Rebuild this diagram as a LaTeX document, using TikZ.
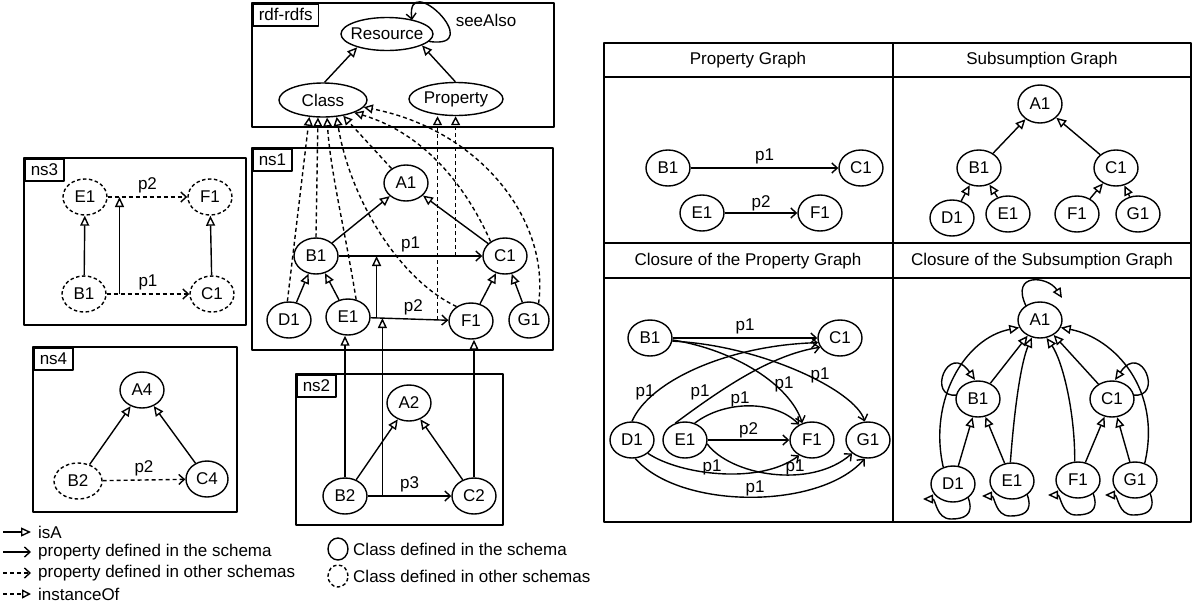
\documentclass[tikz,border=0pt]{standalone}
\usepackage{fontspec}
\setmainfont{Liberation Sans}
\usetikzlibrary{arrows.meta,shapes.geometric,calc}
\begin{document}
\begin{tikzpicture}[x=1pt,y=-1pt,
  font=\fontsize{17}{20}\selectfont,
  line join=round,
  cls/.style={draw, ellipse, line width=1.4pt, minimum width=44pt, minimum height=36pt, inner sep=0pt, fill=white},
  dcls/.style={cls, dash pattern=on 3.5pt off 2.5pt},
  frame/.style={draw, line width=1.5pt},
  tag/.style={draw, line width=1.5pt, anchor=north west, inner xsep=6pt, inner ysep=0pt, minimum height=22pt},
  lbl/.style={inner sep=0pt},
  isa/.style={line width=1.4pt, -{Triangle[open, length=10pt, width=9pt]}},
  prop/.style={line width=1.4pt, -{Straight Barb[length=5.5pt, width=10pt]}},
  dprop/.style={prop, dash pattern=on 4pt off 3pt},
  inst/.style={line width=1.4pt, dash pattern=on 4pt off 3pt, -{Triangle[open, length=9pt, width=9pt]}},
]
\useasboundingbox (0,0) rectangle (1203,614);

% ---------------- rdf-rdfs ----------------
\draw[frame] (252,3) rectangle (554,127);
\node[tag] (tagrdf) at (252,3) {rdf-rdfs};
\node[cls, minimum width=92pt, minimum height=33pt] (rdfres) at (387,34) {};
\node[lbl] (rdfrestxt) at (rdfres) {Resource};
\node[cls, minimum width=88pt, minimum height=34pt] (rdfclass) at (323,100) {Class};
\node[cls, minimum width=94pt, minimum height=33pt] (rdfprop) at (456,99) {Property};
\node[lbl] (seealso) at (486,20) {seeAlso};
\draw[prop] (rdfres.-10) .. controls (488,50) and (405,-32) .. (412,20);
\draw[isa] (rdfclass.85) -- (rdfres.204);
\draw[isa] (rdfprop.92) -- (rdfres.342);

% ---------------- ns3 ----------------
\draw[frame] (24,158) rectangle (246,325);
\node[tag] (tagns3) at (24,158) {ns3};
\node[dcls] (t3e) at (85,197) {E1};
\node[dcls] (t3f) at (210,197) {F1};
\node[dcls] (t3b) at (84,294) {B1};
\node[dcls] (t3c) at (212,294) {C1};
\draw[isa] (t3b) -- (t3e);
\draw[isa] (t3c) -- (t3f);
\draw[dprop] (t3b) -- (t3c) node[lbl, pos=.5, above=3pt] (t3l1) {p1} coordinate[pos=.155] (t3p1);
\draw[dprop] (t3e) -- (t3f) node[lbl, pos=.5, above=3pt] (t3l2) {p2} coordinate[pos=.148] (t3p2);
\draw[isa] (t3p1) -- (t3p1 |- t3p2);

% ---------------- ns1 ----------------
\draw[frame] (252,148) rectangle (553,350);
\node[tag] (tagns1) at (252,148) {ns1};
\node[cls] (n1a) at (406,183) {A1};
\node[cls] (n1b) at (316,256) {B1};
\node[cls] (n1c) at (505,256) {C1};
\node[cls] (n1d) at (289,320) {D1};
\node[cls] (n1e) at (348,317) {E1};
\node[cls] (n1f) at (471,321) {F1};
\node[cls, minimum width=40pt] (n1g) at (529,320) {G1};
\draw[isa] (n1b) -- (n1a);
\draw[isa] (n1c) -- (n1a);
\draw[isa] (n1d) -- (n1b);
\draw[isa] (n1e) -- (n1b);
\draw[isa] (n1f) -- (n1c);
\draw[isa] (n1g) -- (n1c);
\draw[prop] (n1b) -- (n1c) node[lbl, pos=.5, above=3pt] (n1l1) {p1}
   coordinate[pos=.262] (n1p1a) coordinate[pos=.814] (n1p1b);
\draw[prop] (n1e) -- (n1f) node[lbl, pos=.55, above=3pt] (n1l2) {p2}
   coordinate[pos=.076] (n1p2a) coordinate[pos=.139] (n1p2b) coordinate[pos=.861] (n1p2c);
\draw[isa] (n1p2a) -- (n1p2a |- n1p1a);
% instanceOf links into rdf-rdfs
\draw[inst] (n1p1b) -- (n1p1b |- rdfprop.south);
\draw[inst] (n1p2c) -- (n1p2c |- rdfprop.south);
\draw[inst] (n1d.95) -- (rdfclass.231);
\draw[inst] (n1b.north) -- (rdfclass.254);
\draw[inst] (n1e.65) .. controls (345,230) and (330,170) .. (rdfclass.283);
\draw[inst] (n1f.135) .. controls (400,280) and (350,200) .. (rdfclass.309);
\draw[inst] (n1a.135) -- (rdfclass.322);
\draw[inst] (n1c.135) .. controls (470,195) and (430,135) .. (rdfclass.338);
\draw[inst] (n1g.60) .. controls (550,220) and (480,130) .. (rdfclass.350);

% ---------------- ns2 ----------------
\draw[frame] (296,374) rectangle (503,525);
\node[tag] (tagns2) at (296,374) {ns2};
\node[cls] (n2a) at (409,403) {A2};
\node[cls] (n2b) at (345,496) {B2};
\node[cls] (n2c) at (474,496) {C2};
\draw[isa] (n2b) -- (n2a);
\draw[isa] (n2c) -- (n2a);
\draw[prop] (n2b) -- (n2c) node[lbl, pos=.5, above=3pt] (n2l3) {p3} coordinate[pos=.176] (n2p3);
\draw[isa] (n2b.north) -- (n2b.north |- n1e.south);
\draw[isa] (n2c.north) -- (n2c.north |- n1f.south);
\draw[isa] (n2p3) -- (n2p3 |- n1p2b);

% ---------------- ns4 ----------------
\draw[frame] (33,347) rectangle (237,512);
\node[tag] (tagns4) at (33,347) {ns4};
\node[cls] (n4a) at (142,390) {A4};
\node[dcls, minimum width=48pt] (n4b) at (78,481) {B2};
\node[cls, minimum width=42pt] (n4c) at (207,479) {C4};
\draw[isa] (n4b) -- (n4a);
\draw[isa] (n4c) -- (n4a);
\draw[dprop] (n4b) -- (n4c) node[lbl, pos=.5, above=3pt] (n4l2) {p2};

% ---------------- legend ----------------
\coordinate (lga1) at (3,532);  \coordinate (lga2) at (31,532);
\coordinate (lgb1) at (3,552);  \coordinate (lgb2) at (31,552);
\coordinate (lgc1) at (3,573);  \coordinate (lgc2) at (31,573);
\coordinate (lgd1) at (3,594);  \coordinate (lgd2) at (31,594);
\draw[isa] (lga1) -- (lga2);
\draw[prop] (lgb1) -- (lgb2);
\draw[dprop] (lgc1) -- (lgc2);
\draw[inst] (lgd1) -- (lgd2);
\node[lbl, anchor=west] (lgta) at (38,532) {isA};
\node[lbl, anchor=west] (lgtb) at (38,552) {property defined in the schema};
\node[lbl, anchor=west] (lgtc) at (38,573) {property defined in other schemas};
\node[lbl, anchor=west] (lgtd) at (38,594) {instanceOf};
\node[cls, minimum width=20pt, minimum height=22pt] (lgcls) at (338,549) {};
\node[dcls, minimum width=20pt, minimum height=22pt] (lgdcls) at (338,576) {};
\node[lbl, anchor=west] (lgte) at (353,549) {Class defined in the schema};
\node[lbl, anchor=west] (lgtf) at (353,576) {Class defined in other schemas};

% ---------------- table of graphs ----------------
\draw[frame] (604,43) rectangle (1191,522);
\draw[frame] (893,43) -- (893,522);
\draw[frame] (604,77) -- (1191,77);
\draw[frame] (604,243) -- (1191,243);
\draw[frame] (604,278) -- (1191,278);
\node[lbl] (hpg) at (748,60) {Property Graph};
\node[lbl] (hsg) at (1042,60) {Subsumption Graph};
\node[lbl] (hcpg) at (748,261) {Closure of the Property Graph};
\node[lbl] (hcsg) at (1042,261) {Closure of the Subsumption Graph};

% property graph
\node[cls] (pb1) at (668,168) {B1};
\node[cls] (pc1) at (861,168) {C1};
\node[cls] (pe1) at (702,213) {E1};
\node[cls] (pf1) at (820,213) {F1};
\draw[prop] (pb1) -- (pc1) node[lbl, pos=.5, above=3pt] (pl1) {p1};
\draw[prop] (pe1) -- (pf1) node[lbl, pos=.5, above=1pt] (pl2) {p2};

% subsumption graph
\node[cls, minimum height=38pt] (sa1) at (1040,104) {A1};
\node[cls] (sb1) at (979,168) {B1};
\node[cls] (sc1) at (1116,168) {C1};
\node[cls] (sd1) at (952,218) {D1};
\node[cls] (se1) at (1008,214) {E1};
\node[cls] (sf1) at (1077,214) {F1};
\node[cls] (sg1) at (1138,214) {G1};
\draw[isa] (sb1) -- (sa1);
\draw[isa] (sc1) -- (sa1);
\draw[isa] (sd1) -- (sb1);
\draw[isa] (se1) -- (sb1);
\draw[isa] (sf1) -- (sc1);
\draw[isa] (sg1) -- (sc1);

% closure of the property graph
\node[cls] (cpb1) at (650,338) {B1};
\node[cls] (cpc1) at (840,338) {C1};
\node[cls] (cpd1) at (632,440) {D1};
\node[cls] (cpe1) at (685,440) {E1};
\node[cls] (cpf1) at (812,440) {F1};
\node[cls] (cpg1) at (868,440) {G1};
\draw[prop] (cpb1) -- (cpc1) node[lbl, pos=.5, above=3pt] (cpl1) {p1};
\draw[prop] (cpb1.-5) .. controls (735,350) and (790,385) .. (cpf1.120);
\draw[prop] (cpb1.-8) .. controls (760,345) and (855,390) .. (cpg1.100);
\draw[prop] (cpd1.north) .. controls (650,380) and (730,345) .. (cpc1.192);
\draw[prop] (cpe1.120) .. controls (720,390) and (770,355) .. (cpc1.205);
\draw[prop] (cpe1.60) .. controls (725,400) and (775,400) .. (cpf1.130);
\draw[prop] (cpe1) -- (cpf1) node[lbl, pos=.5, above=1pt] (cpl2) {p2};
\draw[prop] (cpd1.-40) .. controls (680,475) and (760,485) .. (cpf1.230);
\draw[prop] (cpe1.-10) .. controls (730,475) and (810,490) .. (cpg1.220);
\draw[prop] (cpd1.-80) .. controls (680,510) and (820,510) .. (cpg1.-100);
\node[lbl] (cpl3) at (645,392) {p1};
\node[lbl] (cpl4) at (700,392) {p1};
\node[lbl] (cpl5) at (740,399) {p1};
\node[lbl] (cpl6) at (784,384) {p1};
\node[lbl] (cpl7) at (820,375) {p1};
\node[lbl] (cpl8) at (712,467) {p1};
\node[lbl] (cpl9) at (795,467) {p1};
\node[lbl] (cpl10) at (755,488) {p1};

% closure of the subsumption graph
\node[cls] (ca1) at (1040,320) {A1};
\node[cls] (cb1) at (978,399) {B1};
\node[cls] (cc1) at (1112,399) {C1};
\node[cls] (cd1) at (953,484) {D1};
\node[cls] (ce1) at (1012,481) {E1};
\node[cls] (cf1) at (1078,480) {F1};
\node[cls] (cg1) at (1135,480) {G1};
\draw[isa] (cb1) -- (ca1);
\draw[isa] (cc1) -- (ca1);
\draw[isa] (cd1) -- (cb1);
\draw[isa] (ce1) -- (cb1);
\draw[isa] (cf1) -- (cc1);
\draw[isa] (cg1) -- (cc1);
\draw[isa] (cd1.120) .. controls (928,400) and (965,338) .. (ca1.200);
\draw[isa] (ce1.95) .. controls (1015,400) and (1022,360) .. (ca1.245);
\draw[isa] (cf1.100) .. controls (1075,410) and (1062,360) .. (ca1.290);
\draw[isa] (cg1.60) .. controls (1162,390) and (1115,338) .. (ca1.340);
% reflexive loops
\draw[isa] ($(ca1)+(-14,-14)$) .. controls ($(ca1)+(-30,-48)$) and ($(ca1)+(8,-44)$) .. ($(ca1)+(22,-22)$);
\draw[isa] ($(cb1)+(-21,-4)$) .. controls ($(cb1)+(-52,0)$) and ($(cb1)+(-30,-58)$) .. ($(cb1)+(-3,-19)$);
\draw[isa] ($(cc1)+(21,-4)$) .. controls ($(cc1)+(52,0)$) and ($(cc1)+(30,-58)$) .. ($(cc1)+(3,-19)$);
\foreach \n in {cd1,ce1,cf1,cg1}{
  \draw[isa] ($(\n)+(15,13)$) .. controls ($(\n)+(22,32)$) and ($(\n)+(10,35)$) .. ($(\n)+(-2,35)$)
     .. controls ($(\n)+(-17,35)$) and ($(\n)+(-17,15)$) .. ($(\n)+(-30,15)$);
}
\end{tikzpicture}
\end{document}
